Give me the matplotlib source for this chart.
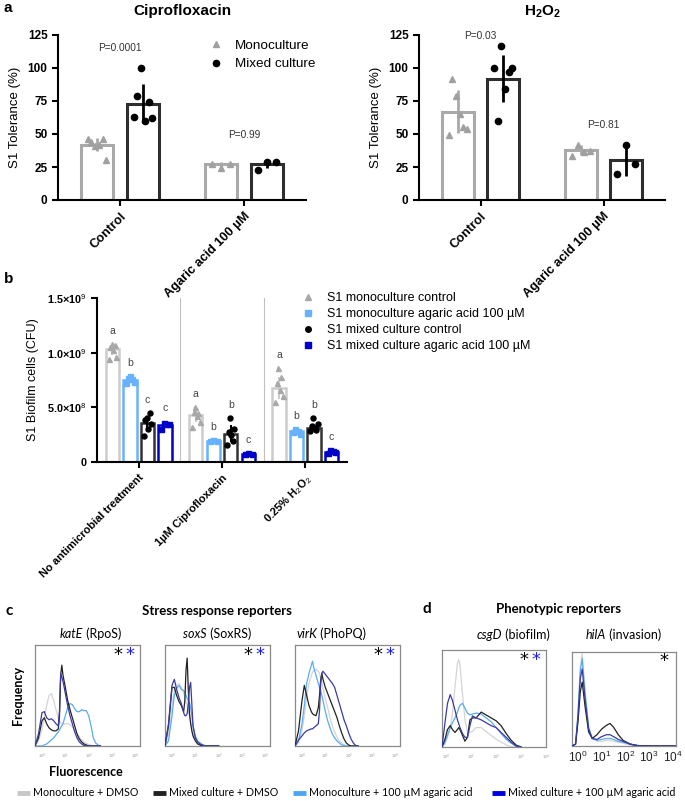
import numpy as np
import matplotlib
matplotlib.use('Agg')
import matplotlib.pyplot as plt
from matplotlib.lines import Line2D

plt.rcParams['font.family'] = ['Liberation Sans', 'DejaVu Sans']
plt.rcParams['mathtext.fontset'] = 'custom'
plt.rcParams['mathtext.rm'] = 'Liberation Sans'
plt.rcParams['mathtext.it'] = 'Liberation Sans:italic'
plt.rcParams['mathtext.bf'] = 'Liberation Sans:bold'

# ---------------- DATA ----------------
# Panel a
a_cats = ['Control', 'Agaric acid 100 µM']
cipro_mono_mean = [42, 27]
cipro_mono_sd = [5, 2]
cipro_mono_pts = [[46, 44, 41, 42, 46, 30], [27, 24, 27]]
cipro_mixed_mean = [73, 27.5]
cipro_mixed_sd = [15, 3]
cipro_mixed_pts = [[62.5, 79, 100, 60, 74, 62], [23, 28.5, 28.5]]
cipro_p = ['P=0.0001', 'P=0.99']

h2o2_mono_mean = [67, 38]
h2o2_mono_sd = [16, 4]
h2o2_mono_pts = [[49, 92, 79, 65, 55, 54], [33, 42, 36, 37]]
h2o2_mixed_mean = [92, 30]
h2o2_mixed_sd = [18, 12]
h2o2_mixed_pts = [[100, 60, 117, 84, 97, 100], [20, 42, 27]]
h2o2_p = ['P=0.03', 'P=0.81']

# Panel b (CFU, x1e9)
b_cats = ['No antimicrobial treatment', '1µM Ciprofloxacin', '0.25% H$_2$O$_2$']
b_series = ['S1 monoculture control', 'S1 monoculture agaric acid 100 µM',
            'S1 mixed culture control', 'S1 mixed culture agaric acid 100 µM']
b_mono_ctrl_mean = [1.03, 0.43, 0.68]
b_mono_aga_mean = [0.75, 0.19, 0.28]
b_mix_ctrl_mean = [0.355, 0.26, 0.31]
b_mix_aga_mean = [0.34, 0.075, 0.095]
b_mono_ctrl_sd = [0.05, 0.06, 0.10]
b_mono_aga_sd = [0.03, 0.01, 0.02]
b_mix_ctrl_sd = [0.07, 0.08, 0.03]
b_mix_aga_sd = [0.03, 0.01, 0.015]
b_mono_ctrl_pts = [[0.94, 1.05, 1.08, 1.02, 1.07, 0.96], [0.32, 0.46, 0.50, 0.42, 0.45, 0.37],
                   [0.55, 0.72, 0.86, 0.66, 0.78, 0.60]]
b_mono_aga_pts = [[0.72, 0.77, 0.79, 0.76, 0.73], [0.19, 0.20, 0.19], [0.27, 0.30, 0.28, 0.26]]
b_mix_ctrl_pts = [[0.24, 0.38, 0.40, 0.30, 0.45, 0.35], [0.16, 0.27, 0.40, 0.25, 0.19, 0.30],
                  [0.28, 0.33, 0.40, 0.31, 0.29, 0.35]]
b_mix_aga_pts = [[0.30, 0.36, 0.35, 0.35], [0.07, 0.08, 0.075], [0.08, 0.11, 0.10, 0.09]]
b_letters = [['a', 'b', 'c', 'c'], ['a', 'b', 'b', 'c'], ['a', 'b', 'b', 'c']]

# Panels c/d: flow cytometry histograms (x = log10 fluorescence, y = relative frequency)
katE_x = [-0.3, -0.15, 0.0, 0.1, 0.2, 0.3, 0.4, 0.5, 0.6, 0.7, 0.75, 0.8, 0.85, 0.9, 1.0, 1.1, 1.2,
          1.3, 1.4, 1.5, 1.6, 1.7, 1.8, 1.9, 2.0, 2.1, 2.2, 2.3, 2.4, 2.5]
katE_mono_dmso = [0, 0.05, 0.16, 0.28, 0.4, 0.5, 0.52, 0.45, 0.36, 0.28, 0.25, 0.23, 0.22, 0.22, 0.22,
                  0.22, 0.21, 0.19, 0.15, 0.12, 0.09, 0.06, 0.04, 0.025, 0.015, 0.007, 0, 0, 0, 0]
katE_mixed_dmso = [0, 0.08, 0.25, 0.28, 0.22, 0.18, 0.16, 0.15, 0.15, 0.17, 0.3, 0.7, 0.8, 0.7, 0.58,
                   0.45, 0.36, 0.28, 0.2, 0.12, 0.07, 0.04, 0.02, 0.01, 0, 0, 0, 0, 0, 0]
katE_mono_aga = [0, 0, 0, 0.01, 0.02, 0.04, 0.06, 0.08, 0.11, 0.14, 0.16, 0.18, 0.2, 0.22, 0.3, 0.38,
                 0.42, 0.41, 0.37, 0.34, 0.34, 0.36, 0.35, 0.35, 0.3, 0.2, 0.08, 0.03, 0.01, 0]
katE_mixed_aga = [0, 0.12, 0.33, 0.34, 0.28, 0.26, 0.27, 0.25, 0.22, 0.2, 0.35, 0.72, 0.68, 0.64, 0.52,
                  0.4, 0.3, 0.22, 0.14, 0.08, 0.04, 0.02, 0.005, 0, 0, 0, 0, 0, 0, 0]

soxS_x = [-0.3, -0.15, 0.0, 0.1, 0.2, 0.3, 0.4, 0.5, 0.55, 0.6, 0.65, 0.7, 0.75, 0.8, 0.85, 0.9, 1.0,
          1.1, 1.2, 1.3, 1.4, 1.5, 2.0]
soxS_mono_dmso = [0, 0.12, 0.4, 0.55, 0.6, 0.62, 0.58, 0.52, 0.48, 0.44, 0.4, 0.35, 0.3, 0.24, 0.18,
                  0.13, 0.07, 0.03, 0.01, 0, 0, 0, 0]
soxS_mixed_dmso = [0, 0.2, 0.58, 0.58, 0.5, 0.44, 0.4, 0.34, 0.45, 0.75, 0.87, 0.55, 0.32, 0.22, 0.15,
                   0.1, 0.05, 0.02, 0.01, 0, 0, 0, 0]
soxS_mono_aga = [0, 0.05, 0.3, 0.5, 0.57, 0.6, 0.56, 0.55, 0.53, 0.5, 0.47, 0.45, 0.43, 0.38, 0.3, 0.2,
                 0.1, 0.05, 0.03, 0.015, 0.005, 0, 0]
soxS_mixed_aga = [0, 0.22, 0.6, 0.66, 0.56, 0.48, 0.42, 0.33, 0.3, 0.3, 0.32, 0.42, 0.58, 0.63, 0.42,
                  0.2, 0.08, 0.04, 0.02, 0.01, 0, 0, 0]

virK_x = [-0.3, -0.15, 0.0, 0.1, 0.2, 0.3, 0.4, 0.45, 0.5, 0.6, 0.7, 0.75, 0.8, 0.85, 0.9, 1.0, 1.1,
          1.2, 1.3, 1.4, 1.5, 1.6, 1.7, 1.8, 1.9, 2.0, 2.1, 2.2, 2.3, 2.4]
virK_mono_dmso = [0, 0.03, 0.15, 0.3, 0.48, 0.62, 0.7, 0.73, 0.75, 0.76, 0.74, 0.72, 0.68, 0.62, 0.57,
                  0.47, 0.38, 0.28, 0.2, 0.14, 0.09, 0.05, 0.03, 0.01, 0, 0, 0, 0, 0, 0]
virK_mixed_dmso = [0, 0.15, 0.45, 0.6, 0.5, 0.4, 0.34, 0.32, 0.31, 0.3, 0.38, 0.5, 0.65, 0.72, 0.66,
                   0.58, 0.52, 0.46, 0.4, 0.34, 0.28, 0.2, 0.13, 0.07, 0.03, 0.01, 0, 0, 0, 0]
virK_mono_aga = [0, 0.05, 0.22, 0.4, 0.62, 0.72, 0.8, 0.84, 0.78, 0.7, 0.62, 0.58, 0.55, 0.5, 0.45,
                 0.34, 0.25, 0.18, 0.12, 0.08, 0.05, 0.03, 0.01, 0.005, 0, 0, 0, 0, 0, 0]
virK_mixed_aga = [0, 0.06, 0.1, 0.13, 0.15, 0.16, 0.17, 0.17, 0.18, 0.2, 0.22, 0.35, 0.62, 0.72, 0.74,
                  0.71, 0.68, 0.65, 0.62, 0.58, 0.5, 0.42, 0.34, 0.26, 0.2, 0.13, 0.07, 0.03, 0.005, 0]

csgD_x = [-0.17, -0.05, 0.05, 0.16, 0.25, 0.35, 0.45, 0.5, 0.55, 0.65, 0.75, 0.85, 0.95, 1.05, 1.2,
          1.4, 1.6, 1.8, 2.0, 2.2, 2.4, 2.6, 2.8, 3.0]
csgD_mono_dmso = [0, 0.03, 0.1, 0.2, 0.35, 0.62, 0.86, 0.9, 0.85, 0.55, 0.28, 0.16, 0.15, 0.16, 0.2,
                  0.2, 0.16, 0.12, 0.08, 0.05, 0.02, 0.005, 0, 0]
csgD_mixed_dmso = [0, 0.08, 0.18, 0.22, 0.18, 0.15, 0.18, 0.2, 0.18, 0.12, 0.06, 0.1, 0.28, 0.3, 0.3,
                   0.36, 0.33, 0.3, 0.27, 0.22, 0.14, 0.07, 0.02, 0]
csgD_mono_aga = [0, 0.05, 0.12, 0.2, 0.25, 0.3, 0.36, 0.4, 0.43, 0.45, 0.4, 0.35, 0.33, 0.34, 0.35,
                 0.34, 0.3, 0.26, 0.2, 0.14, 0.08, 0.04, 0.01, 0]
csgD_mixed_aga = [0, 0.25, 0.45, 0.54, 0.48, 0.38, 0.28, 0.24, 0.2, 0.14, 0.1, 0.1, 0.22, 0.32, 0.3,
                  0.28, 0.25, 0.22, 0.2, 0.15, 0.1, 0.05, 0.01, 0]

hilA_x = [-0.25, -0.1, 0.0, 0.1, 0.18, 0.3, 0.45, 0.6, 0.8, 1.0, 1.2, 1.35, 1.5, 1.7, 1.9, 2.2, 2.5,
          3.0, 4.1]
hilA_mono_dmso = [0, 0.02, 0.35, 0.85, 0.98, 0.6, 0.2, 0.08, 0.05, 0.05, 0.06, 0.06, 0.05, 0.04, 0.03,
                  0.01, 0, 0, 0]
hilA_mixed_dmso = [0, 0.02, 0.25, 0.58, 0.68, 0.42, 0.15, 0.08, 0.12, 0.18, 0.22, 0.24, 0.2, 0.12,
                   0.06, 0.02, 0.005, 0, 0]
hilA_mono_aga = [0, 0.02, 0.33, 0.8, 0.93, 0.55, 0.2, 0.08, 0.06, 0.07, 0.08, 0.08, 0.07, 0.05, 0.04,
                 0.02, 0.005, 0, 0]
hilA_mixed_aga = [0, 0.02, 0.3, 0.72, 0.82, 0.5, 0.18, 0.08, 0.07, 0.1, 0.12, 0.12, 0.1, 0.07, 0.05,
                  0.02, 0.005, 0, 0]

hist_titles = [('katE', ' (RpoS)'), ('soxS', ' (SoxRS)'), ('virK', ' (PhoPQ)'),
               ('csgD', ' (biofilm)'), ('hilA', ' (invasion)')]
hist_legend = ['Monoculture + DMSO', 'Mixed culture + DMSO',
               'Monoculture + 100 µM agaric acid', 'Mixed culture + 100 µM agaric acid']
decades = [0, 1, 2, 3, 4]

# ---------------- LAYOUT ----------------
W, H = 685, 801
fig = plt.figure(figsize=(W / 100, H / 100), dpi=100)


def px_axes(l, t, r, b):
    return fig.add_axes([l / W, 1 - b / H, (r - l) / W, (b - t) / H])


def fx(x):
    return x / W


def fy(y):
    return 1 - y / H


MONO = '#a9a9a9'
MIX = '#2e2e2e'


def style_bar_axes(ax, lw=1.5):
    for s in ['top', 'right']:
        ax.spines[s].set_visible(False)
    for s in ['left', 'bottom']:
        ax.spines[s].set_linewidth(lw)
        ax.spines[s].set_color('black')
    ax.tick_params(direction='out', length=4, width=lw, color='black')


def panel_a(ax, mono_mean, mono_sd, mono_pts, mix_mean, mix_sd, mix_pts, pvals, p_y, legend=False):
    x = np.arange(len(a_cats)) + 0.5
    off, w = 0.185, 0.26
    ax.bar(x - off, mono_mean, w, facecolor='white', edgecolor=MONO, linewidth=2.2, zorder=2)
    ax.bar(x + off, mix_mean, w, facecolor='white', edgecolor=MIX, linewidth=2.2, zorder=2)
    ax.errorbar(x - off, mono_mean, yerr=mono_sd, fmt='none', ecolor=MONO, elinewidth=2.0,
                capsize=0, zorder=3)
    ax.errorbar(x + off, mix_mean, yerr=mix_sd, fmt='none', ecolor='black', elinewidth=2.0,
                capsize=0, zorder=3)
    for i in range(len(x)):
        pts = mono_pts[i]
        jit = np.linspace(-0.075, 0.075, len(pts))
        ax.plot(x[i] - off + jit, pts, ls='none', marker='^', ms=4.5, color='#a0a0a0', zorder=4)
        pts = mix_pts[i]
        jit = np.linspace(-0.075, 0.075, len(pts))
        ax.plot(x[i] + off + jit, pts, ls='none', marker='o', ms=4.5, color='black', zorder=4)
        ax.text(x[i], p_y[i], pvals[i], ha='center', va='center', fontsize=7.3, color='#333333')
    ax.set_xlim(0, 2)
    ax.set_ylim(0, 125)
    ax.set_yticks([0, 25, 50, 75, 100, 125])
    ax.set_xticks(x)
    ax.set_xticklabels(a_cats, rotation=45, ha='right', rotation_mode='anchor',
                       fontsize=9.2, fontweight='bold')
    for lab in ax.get_yticklabels():
        lab.set_fontweight('bold')
        lab.set_fontsize(8.5)
    ax.set_ylabel('S1 Tolerance (%)', fontsize=9.5, labelpad=5)
    style_bar_axes(ax)
    if legend:
        h = [Line2D([], [], ls='none', marker='^', ms=4.5, color='#a0a0a0'),
             Line2D([], [], ls='none', marker='o', ms=4.5, color='black')]
        ax.legend(h, ['Monoculture', 'Mixed culture'], loc='upper left',
                  bbox_to_anchor=(0.61, 0.975), frameon=False, fontsize=9.7,
                  handlelength=1.0, handletextpad=0.9, labelspacing=0.48,
                  borderpad=0, borderaxespad=0)


axA1 = px_axes(58, 35, 306, 200)
panel_a(axA1, cipro_mono_mean, cipro_mono_sd, cipro_mono_pts, cipro_mixed_mean, cipro_mixed_sd,
        cipro_mixed_pts, cipro_p, [115, 49], legend=True)
axA2 = px_axes(419, 35, 665, 200)
panel_a(axA2, h2o2_mono_mean, h2o2_mono_sd, h2o2_mono_pts, h2o2_mixed_mean, h2o2_mixed_sd,
        h2o2_mixed_pts, h2o2_p, [124, 57])

fig.text(fx(182), fy(11), 'Ciprofloxacin', ha='center', va='center', fontsize=11, fontweight='bold')
fig.text(fx(542), fy(12), r'H$_\mathbf{2}$O$_\mathbf{2}$', ha='center', va='center', fontsize=11,
         fontweight='bold')
fig.text(fx(3), fy(8), 'a', ha='left', va='center', fontsize=11, fontweight='bold')

# ---------------- Panel b ----------------
axB = px_axes(97, 298, 347, 462)
b_cols = ['#cccccc', '#66b2ff', '#333333', '#0000c8']
b_pt_cols = ['#a8a8a8', '#66b2ff', 'black', '#0000c8']
b_markers = ['^', 's', 'o', 's']
means = [b_mono_ctrl_mean, b_mono_aga_mean, b_mix_ctrl_mean, b_mix_aga_mean]
sds = [b_mono_ctrl_sd, b_mono_aga_sd, b_mix_ctrl_sd, b_mix_aga_sd]
ptss = [b_mono_ctrl_pts, b_mono_aga_pts, b_mix_ctrl_pts, b_mix_aga_pts]
xg = np.arange(len(b_cats)) + 0.5
step, bw = 0.21, 0.16
for k in range(4):
    xk = xg + (k - 1.5) * step
    m = np.array(means[k]) * 1e9
    s = np.array(sds[k]) * 1e9
    axB.bar(xk, m, bw, facecolor='white', edgecolor=b_cols[k], linewidth=1.8, zorder=2)
    axB.errorbar(xk, m, yerr=s, fmt='none', ecolor=b_cols[k] if k != 2 else 'black',
                 elinewidth=1.5, capsize=0, zorder=3)
    for g in range(len(b_cats)):
        pts = np.array(ptss[k][g]) * 1e9
        jit = np.linspace(-0.045, 0.045, len(pts))
        axB.plot(xk[g] + jit, pts, ls='none', marker=b_markers[k], ms=3.6, color=b_pt_cols[k],
                 zorder=4)
        top = max(pts.max(), m[g] + s[g])
        axB.text(xk[g], top + 0.12e9, b_letters[g][k], ha='center', va='center', fontsize=7.5,
                 color='#444444')
for sep in [1, 2]:
    axB.axvline(sep, color='#c0c0c0', lw=0.8, zorder=1)
axB.set_xlim(0, 3)
axB.set_ylim(0, 1.5e9)
axB.set_yticks([0, 0.5e9, 1.0e9, 1.5e9])
axB.set_yticklabels(['0', r'5.0×10$^{8}$', r'1.0×10$^{9}$', r'1.5×10$^{9}$'], fontsize=7.8,
                    fontweight='bold')
axB.set_xticks(xg)
axB.set_xticklabels(b_cats, rotation=45, ha='right', rotation_mode='anchor', fontsize=8,
                    fontweight='bold')
axB.set_ylabel('S1 Biofilm cells (CFU)', fontsize=9, labelpad=6)
style_bar_axes(axB)
hb = [Line2D([], [], ls='none', marker=b_markers[k], ms=4, color=b_pt_cols[k]) for k in range(4)]
fig.legend(hb, b_series, loc='upper left', bbox_to_anchor=(fx(302), fy(292)), frameon=False,
           fontsize=9, handlelength=1.0, handletextpad=1.0, labelspacing=0.33, borderpad=0,
           borderaxespad=0)
fig.text(fx(4), fy(279), 'b', ha='left', va='center', fontsize=11, fontweight='bold')

# ---------------- Panels c / d ----------------
LATO = ['Lato', 'DejaVu Sans']
HC = ['#d4d4d4', '#5aabf2', '#222222', '#3b3ba0']  # mono dmso, mono aga, mixed dmso, mixed aga
LC = ['#c8c8c8', '#222222', '#4da6f5', '#0000dd']
hist_sets = [
    (katE_x, [katE_mono_dmso, katE_mono_aga, katE_mixed_dmso, katE_mixed_aga], (35, 645, 140, 746),
     (-0.3, 4.2), True),
    (soxS_x, [soxS_mono_dmso, soxS_mono_aga, soxS_mixed_dmso, soxS_mixed_aga], (165, 645, 270, 746),
     (-0.3, 4.2), True),
    (virK_x, [virK_mono_dmso, virK_mono_aga, virK_mixed_dmso, virK_mixed_aga], (295, 645, 400, 746),
     (-0.3, 4.2), True),
    (csgD_x, [csgD_mono_dmso, csgD_mono_aga, csgD_mixed_dmso, csgD_mixed_aga], (442, 650, 546, 747),
     (-0.17, 4.0), True),
    (hilA_x, [hilA_mono_dmso, hilA_mono_aga, hilA_mixed_dmso, hilA_mixed_aga], (572, 652, 676, 746),
     (-0.25, 4.13), False),
]
title_split = [83, 207, 317, 502, 606]
for idx, (hx, curves, box, xl, both) in enumerate(hist_sets):
    ax = px_axes(*box)
    for k in range(4):
        ax.plot(hx, curves[k], color=HC[k], lw=0.9, zorder=2 + k)
    ax.set_xlim(*xl)
    ax.set_ylim(0, 1.0)
    ax.set_yticks([])
    ax.set_xticks(decades)
    if idx < 4:
        ax.set_xticklabels([r'$10^{%d}$' % d for d in decades], fontsize=3, color='#999999')
        ax.tick_params(axis='x', length=0, pad=4)
    else:
        ax.set_xticklabels([r'$10^{%d}$' % d for d in decades], fontsize=8.5, color='#222222')
        ax.tick_params(axis='x', length=0, pad=3)
    for s in ax.spines.values():
        s.set_color('#8a8a8a')
        s.set_linewidth(0.9)
    if both:
        ax.text(0.79, 0.9, '*', transform=ax.transAxes, ha='center', va='center', fontsize=13,
                color='black', family=['DejaVu Sans'])
        ax.text(0.9, 0.9, '*', transform=ax.transAxes, ha='center', va='center', fontsize=13,
                color='#1a1aff', family=['DejaVu Sans'])
    else:
        ax.text(0.88, 0.9, '*', transform=ax.transAxes, ha='center', va='center', fontsize=13,
                color='black', family=['DejaVu Sans'])
    it, rest = hist_titles[idx]
    ty = 634 if idx < 3 else 635
    fig.text(fx(title_split[idx]), fy(ty), it, ha='right', va='center', fontsize=9, style='italic',
             family=LATO)
    fig.text(fx(title_split[idx]), fy(ty), rest, ha='left', va='center', fontsize=9, family=LATO)

fig.text(fx(5), fy(611), 'c', ha='left', va='center', fontsize=11, fontweight='bold', family=LATO)
fig.text(fx(217), fy(611), 'Stress response reporters', ha='center', va='center', fontsize=9.5,
         fontweight='bold', family=LATO)
fig.text(fx(427), fy(609), 'd', ha='center', va='center', fontsize=11, fontweight='bold', family=LATO)
fig.text(fx(558), fy(609), 'Phenotypic reporters', ha='center', va='center', fontsize=9.5,
         fontweight='bold', family=LATO)
fig.text(fx(18), fy(695), 'Frequency', rotation=90, ha='center', va='center', fontsize=9,
         fontweight='bold', family=LATO)
fig.text(fx(86), fy(772), 'Fluorescence', ha='center', va='center', fontsize=9, fontweight='bold',
         family=LATO)

leg_x = [17, 153, 293, 492]
for k in range(4):
    x0 = leg_x[k]
    fig.add_artist(Line2D([fx(x0), fx(x0 + 13)], [fy(793), fy(793)], color=LC[k], lw=3.5,
                          solid_capstyle='butt'))
    fig.text(fx(x0 + 16), fy(793), hist_legend[k], ha='left', va='center', fontsize=7.7,
             family=LATO)

fig.savefig('out.png', dpi=100)
